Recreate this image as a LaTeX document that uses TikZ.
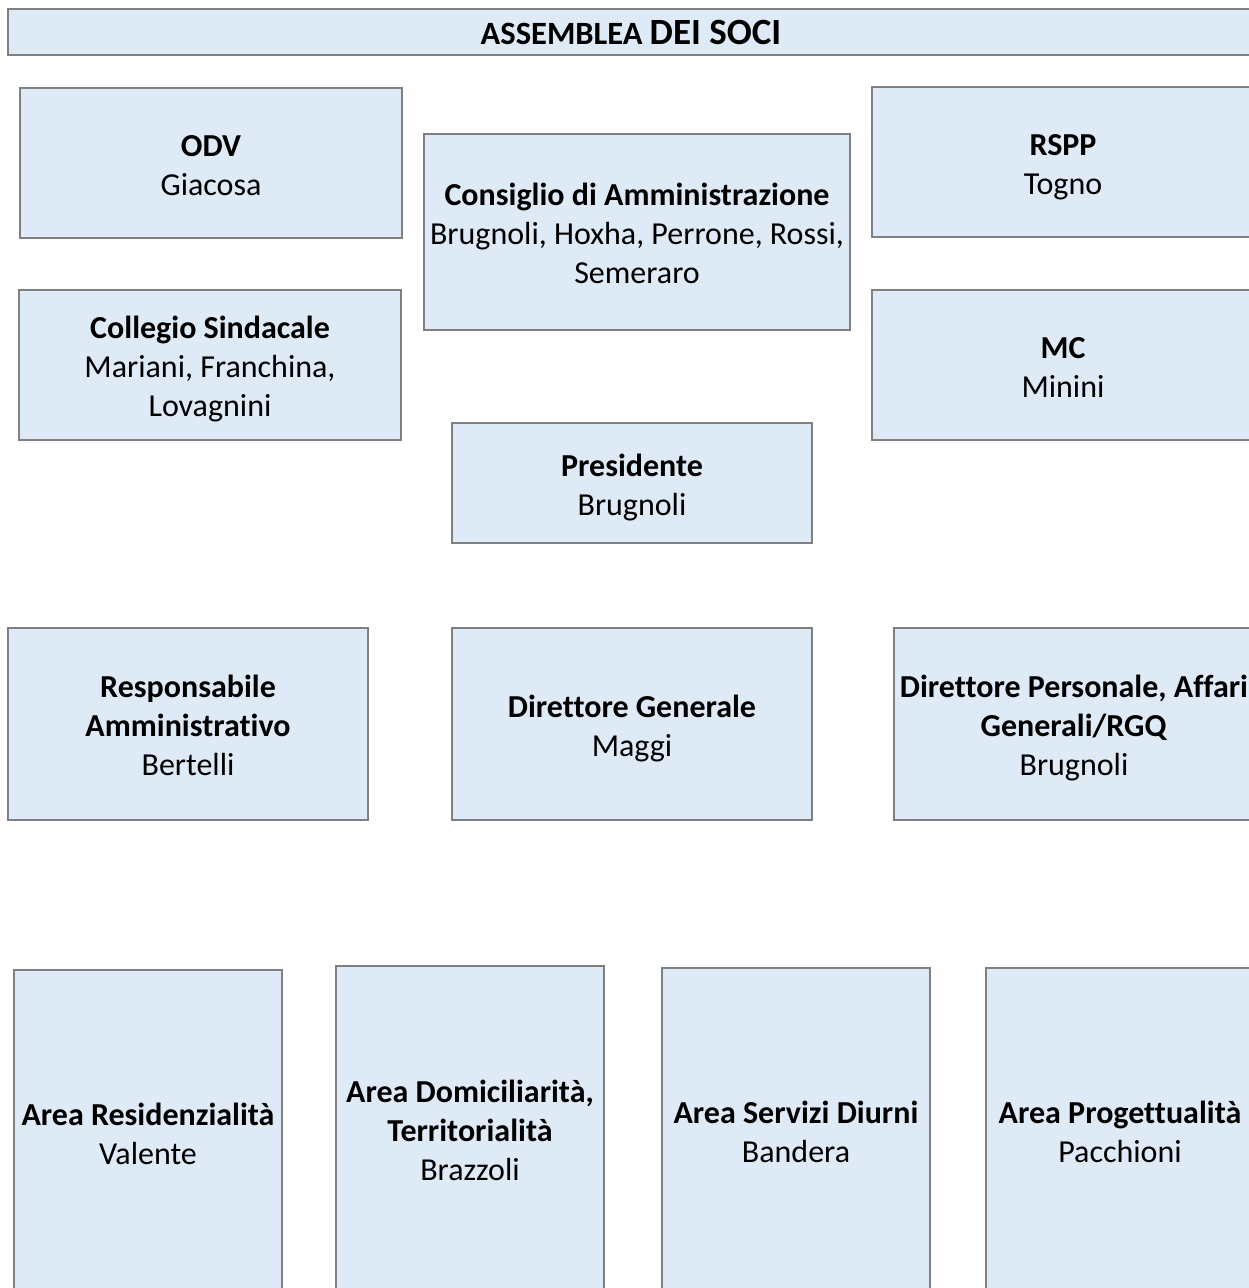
\documentclass[tikz,border=0pt]{standalone}
\usepackage{fontspec}
\setmainfont{Carlito}[Ligatures=NoCommon]
\definecolor{boxfill}{HTML}{DEEAF6}
\definecolor{boxline}{HTML}{808080}
\newcommand{\lstrut}{\rule[-7pt]{0pt}{39pt}}
\begin{document}
\begin{tikzpicture}[x=1pt,y=-1pt,
  orgbox/.style={draw=boxline, fill=boxfill, line width=1.6pt, align=center,
    inner sep=0pt, font=\fontsize{32}{39}\selectfont}]
\useasboundingbox (0,0) rectangle (1249,1288);
\clip (0,0) rectangle (1249,1288);
% header
\node[orgbox, minimum width=1246pt, minimum height=46pt] (assemblea) at (631,32)
  {\bfseries{\fontsize{32.5}{34}\selectfont ASSEMBLEA} {\fontsize{37}{38}\selectfont DEI SOCI}};
% top group
\node[orgbox, minimum width=382pt, minimum height=150pt] (odv) at (211,163)
  {\lstrut\textbf{ODV}\\\lstrut Giacosa};
\node[orgbox, minimum width=426pt, minimum height=196pt] (cda) at (637,232)
  {\lstrut\textbf{Consiglio di Amministrazione}\\\lstrut Brugnoli, Hoxha, Perrone, Rossi,\\\lstrut Semeraro};
\node[orgbox, minimum width=382pt, minimum height=150pt] (rspp) at (1063,162)
  {\lstrut\textbf{RSPP}\\\lstrut Togno};
\node[orgbox, minimum width=382pt, minimum height=150pt] (cs) at (210,365)
  {\lstrut\textbf{Collegio Sindacale}\\\lstrut Mariani, Franchina,\\\lstrut Lovagnini};
\node[orgbox, minimum width=382pt, minimum height=150pt] (mc) at (1063,365)
  {\lstrut\textbf{MC}\\\lstrut Minini};
\node[orgbox, minimum width=360pt, minimum height=120pt] (pres) at (632,483)
  {\lstrut\textbf{Presidente}\\\lstrut Brugnoli};
% middle row
\node[orgbox, minimum width=360pt, minimum height=192pt] (ra) at (188,724)
  {\lstrut\textbf{Responsabile}\\\lstrut\textbf{Amministrativo}\\\lstrut Bertelli};
\node[orgbox, minimum width=360pt, minimum height=192pt] (dg) at (632,724)
  {\lstrut\textbf{Direttore Generale}\\\lstrut Maggi};
\node[orgbox, minimum width=360pt, minimum height=192pt] (dp) at (1074,724)
  {\lstrut\textbf{Direttore Personale, Affari}\\\lstrut\textbf{Generali/RGQ}\\\lstrut Brugnoli};
% bottom row
\node[orgbox, minimum width=268pt, minimum height=324pt] (ar) at (148,1132)
  {\lstrut\textbf{Area Residenzialità}\\\lstrut Valente};
\node[orgbox, minimum width=268pt, minimum height=326pt] (ad) at (470,1129)
  {\lstrut\textbf{Area Domiciliarità,}\\\lstrut\textbf{Territorialità}\\\lstrut Brazzoli};
\node[orgbox, minimum width=268pt, minimum height=324pt] (asd) at (796,1130)
  {\lstrut\textbf{Area Servizi Diurni}\\\lstrut Bandera};
\node[orgbox, minimum width=268pt, minimum height=324pt] (ap) at (1120,1130)
  {\lstrut\textbf{Area Progettualità}\\\lstrut Pacchioni};
\end{tikzpicture}
\end{document}
